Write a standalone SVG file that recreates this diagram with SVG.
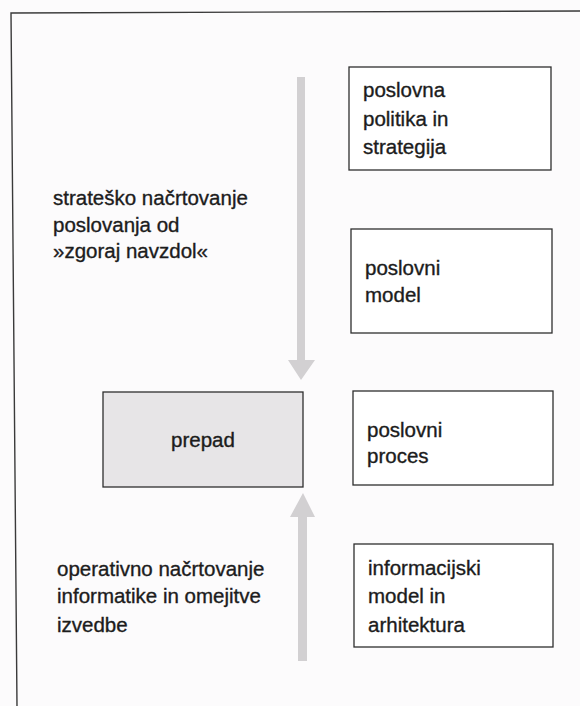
<svg xmlns="http://www.w3.org/2000/svg" width="580" height="706" viewBox="0 0 580 706">
  <defs>
    <style>
      .box { fill: #ffffff; stroke: #2e2e2e; stroke-width: 1.3; }
      .gap { fill: #e7e5e7; stroke: #2e2e2e; stroke-width: 1.3; }
      .lbl { font-family: "Liberation Sans", Arial, Helvetica, sans-serif; font-size: 20.5px; fill: #1c1c1c; stroke: #1c1c1c; stroke-width: 0.35; }
      .arrow { fill: #d2d0d2; }
      .frame { fill: none; stroke: #3a3a3a; stroke-width: 1.4; }
    </style>
  </defs>

  <!-- page -->
  <rect x="0" y="0" width="580" height="706" fill="#fcfbfc"/>

  <!-- outer frame (open on the right and bottom) -->
  <path class="frame" d="M580,11 L11,13 L17,706"/>

  <!-- planning direction arrows -->
  <g id="connectors">
    <!-- top-down: strategy towards the gap -->
    <path class="arrow" d="M297,77 L305,77 L305,360 L315,360 L301,380 L288,360 L297,360 Z"/>
    <!-- bottom-up: operations towards the gap -->
    <path class="arrow" d="M298,661 L307,661 L307,517 L315,517 L303,493 L290,517 L298,517 Z"/>
  </g>

  <g id="strateg-label">
    <text class="lbl" x="53" y="205">strateško načrtovanje</text>
    <text class="lbl" x="53" y="232">poslovanja od</text>
    <text class="lbl" x="53" y="258">»zgoraj navzdol«</text>
  </g>

  <g id="operat-label">
    <text class="lbl" x="57" y="576">operativno načrtovanje</text>
    <text class="lbl" x="57" y="603">informatike in omejitve</text>
    <text class="lbl" x="57" y="632">izvedbe</text>
  </g>

  <g id="prepad">
    <rect class="gap" x="103" y="392" width="200" height="95"/>
    <text class="lbl" x="203" y="447" text-anchor="middle">prepad</text>
  </g>

  <g id="politika">
    <rect class="box" x="349" y="67" width="202" height="103"/>
    <text class="lbl" x="363" y="97">poslovna</text>
    <text class="lbl" x="363" y="126">politika in</text>
    <text class="lbl" x="363" y="154">strategija</text>
  </g>

  <g id="model">
    <rect class="box" x="351" y="229" width="201" height="104"/>
    <text class="lbl" x="365" y="275">poslovni</text>
    <text class="lbl" x="365" y="302">model</text>
  </g>

  <g id="proces">
    <rect class="box" x="353" y="391" width="200" height="94"/>
    <text class="lbl" x="367" y="437">poslovni</text>
    <text class="lbl" x="367" y="463">proces</text>
  </g>

  <g id="informacijski">
    <rect class="box" x="354" y="544" width="199" height="103"/>
    <text class="lbl" x="368" y="575">informacijski</text>
    <text class="lbl" x="368" y="603">model in</text>
    <text class="lbl" x="368" y="632">arhitektura</text>
  </g>
</svg>
